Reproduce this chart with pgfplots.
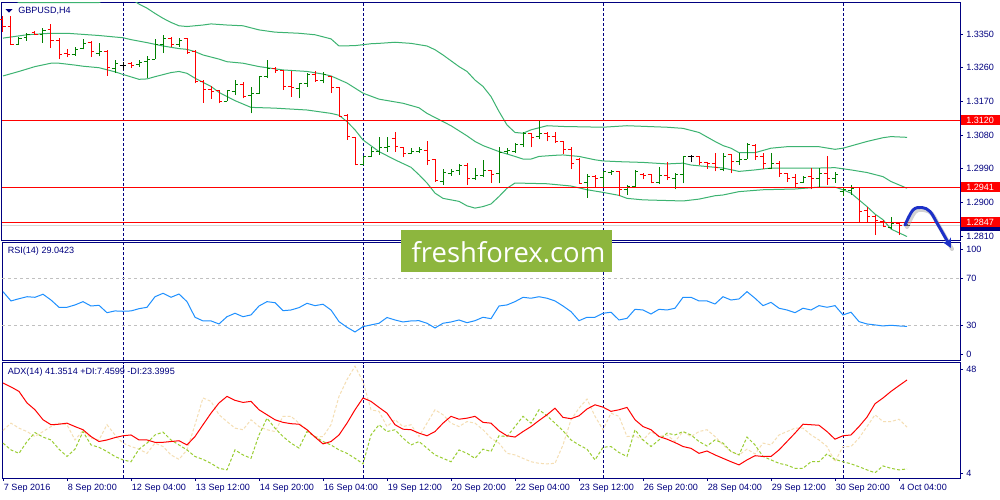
\documentclass[border=0pt]{standalone}
\usepackage{pgfplots}
\pgfplotsset{compat=1.18}
\usepackage{pgfplotstable}
\usepackage{fontspec}
\setmainfont{Liberation Sans}
\newfontfamily\wmfont{Open Sans}
\usetikzlibrary{arrows.meta}

\definecolor{navy}{RGB}{0,0,128}
\definecolor{upc}{RGB}{0,128,0}
\definecolor{dnc}{RGB}{255,0,0}
\definecolor{bbc}{RGB}{60,179,113}
\definecolor{rsic}{RGB}{30,144,255}
\definecolor{pdic}{RGB}{154,205,50}
\definecolor{mdic}{RGB}{245,222,179}
\definecolor{lvl}{RGB}{192,192,192}
\definecolor{bidc}{RGB}{215,215,215}
\definecolor{wmc}{RGB}{141,182,62}
\definecolor{arrc}{RGB}{28,48,200}

\newcommand\mtf{\fontsize{6.8}{8.2}\selectfont}

\pgfdeclareplotmark{openmk}{\pgfsetlinewidth{0.75pt}\pgfpathmoveto{\pgfqpoint{-2.6pt}{0pt}}\pgfpathlineto{\pgfqpoint{0pt}{0pt}}\pgfusepathqstroke}
\pgfdeclareplotmark{closemk}{\pgfsetlinewidth{0.75pt}\pgfpathmoveto{\pgfqpoint{0pt}{0pt}}\pgfpathlineto{\pgfqpoint{2.6pt}{0pt}}\pgfusepathqstroke}

\pgfplotstableread{
i o h l c
0 1.3388 1.3397 1.3356 1.3370
1 1.3370 1.3398 1.3321 1.3321
2 1.3321 1.3341 1.3321 1.3339
3 1.3341 1.3352 1.3332 1.3349
4 1.3355 1.3357 1.3347 1.3350
5 1.3349 1.3365 1.3327 1.3359
6 1.3361 1.3376 1.3312 1.3334
7 1.3332 1.3340 1.3283 1.3294
8 1.3299 1.3309 1.3288 1.3295
9 1.3294 1.3316 1.3292 1.3309
10 1.3312 1.3336 1.3309 1.3325
11 1.3328 1.3330 1.3288 1.3303
12 1.3299 1.3325 1.3290 1.3302
13 1.3303 1.3308 1.3238 1.3260
14 1.3258 1.3281 1.3247 1.3272
15 1.3266 1.3276 1.3254 1.3266
16 1.3272 1.3275 1.3260 1.3266
17 1.3269 1.3281 1.3263 1.3275
18 1.3276 1.3291 1.3232 1.3283
19 1.3283 1.3336 1.3283 1.3321
20 1.3321 1.3348 1.3299 1.3337
21 1.3337 1.3341 1.3316 1.3323
22 1.3323 1.3339 1.3316 1.3332
23 1.3337 1.3339 1.3297 1.3300
24 1.3303 1.3306 1.3218 1.3223
25 1.3223 1.3226 1.3167 1.3201
26 1.3202 1.3211 1.3177 1.3196
27 1.3199 1.3201 1.3165 1.3170
28 1.3170 1.3201 1.3170 1.3199
29 1.3196 1.3227 1.3187 1.3214
30 1.3214 1.3223 1.3178 1.3183
31 1.3187 1.3208 1.3138 1.3192
32 1.3192 1.3238 1.3190 1.3236
33 1.3236 1.3281 1.3232 1.3257
34 1.3258 1.3263 1.3247 1.3252
35 1.3252 1.3254 1.3201 1.3211
36 1.3211 1.3250 1.3183 1.3208
37 1.3205 1.3218 1.3178 1.3217
38 1.3217 1.3245 1.3208 1.3241
39 1.3241 1.3250 1.3223 1.3226
40 1.3227 1.3248 1.3218 1.3241
41 1.3236 1.3238 1.3192 1.3208
42 1.3208 1.3208 1.3129 1.3129
43 1.3132 1.3136 1.3067 1.3076
44 1.3074 1.3076 1.2999 1.3002
45 1.3002 1.3024 1.2999 1.3024
46 1.3024 1.3049 1.3021 1.3036
47 1.3036 1.3076 1.3027 1.3048
48 1.3047 1.3076 1.3036 1.3049
49 1.3072 1.3089 1.3036 1.3049
50 1.3048 1.3049 1.3021 1.3030
51 1.3032 1.3045 1.3029 1.3035
52 1.3036 1.3049 1.3033 1.3042
53 1.3040 1.3064 1.3000 1.3011
54 1.3014 1.3016 1.2956 1.2960
55 1.2956 1.2989 1.2947 1.2980
56 1.2978 1.2989 1.2971 1.2984
57 1.2985 1.3002 1.2974 1.3000
58 1.3000 1.3005 1.2947 1.2965
59 1.2965 1.2991 1.2960 1.2971
60 1.2971 1.3014 1.2969 1.2985
61 1.2985 1.2987 1.2953 1.2976
62 1.2978 1.3049 1.2951 1.3033
63 1.3036 1.3045 1.3030 1.3040
64 1.3036 1.3058 1.3033 1.3054
65 1.3054 1.3087 1.3048 1.3083
66 1.3083 1.3085 1.3047 1.3074
67 1.3076 1.3119 1.3069 1.3085
68 1.3085 1.3087 1.3063 1.3076
69 1.3076 1.3087 1.3060 1.3063
70 1.3063 1.3063 1.3030 1.3042
71 1.3042 1.3049 1.2989 1.3003
72 1.3016 1.3018 1.2949 1.2951
73 1.2953 1.2976 1.2913 1.2969
74 1.2969 1.2974 1.2941 1.2965
75 1.2966 1.2985 1.2942 1.2982
76 1.2981 1.2987 1.2974 1.2984
77 1.2982 1.2984 1.2916 1.2934
78 1.2934 1.2947 1.2920 1.2944
79 1.2944 1.2987 1.2941 1.2982
80 1.2976 1.2978 1.2962 1.2972
81 1.2975 1.2976 1.2951 1.2953
82 1.2953 1.2994 1.2949 1.2971
83 1.2971 1.3008 1.2960 1.2966
84 1.2965 1.2978 1.2935 1.2974
85 1.2974 1.3025 1.2951 1.3024
86 1.3023 1.3027 1.3007 1.3023
87 1.3024 1.3025 1.2999 1.3008
88 1.3007 1.3008 1.2990 1.3003
89 1.3005 1.3032 1.2983 1.2993
90 1.2989 1.3032 1.2983 1.3024
91 1.3027 1.3030 1.2978 1.3009
92 1.3009 1.3032 1.3000 1.3016
93 1.3016 1.3058 1.3016 1.3054
94 1.3052 1.3056 1.3014 1.3023
95 1.3023 1.3032 1.2989 1.3005
96 1.2991 1.3032 1.2989 1.3005
97 1.3005 1.3012 1.2969 1.2978
98 1.2978 1.2980 1.2956 1.2965
99 1.2966 1.2976 1.2942 1.2951
100 1.2953 1.2971 1.2953 1.2966
101 1.2969 1.2991 1.2935 1.2965
102 1.2965 1.2991 1.2941 1.2978
103 1.2978 1.3023 1.2947 1.2963
104 1.2965 1.2982 1.2953 1.2976
105 1.2929 1.2942 1.2918 1.2935
106 1.2932 1.2947 1.2920 1.2938
107 1.2941 1.2942 1.2846 1.2876
108 1.2878 1.2889 1.2849 1.2862
109 1.2862 1.2867 1.2813 1.2852
110 1.2849 1.2854 1.2834 1.2837
111 1.2834 1.2861 1.2829 1.2843
112 1.2843 1.2845 1.2813 1.2839
113 1.2839 1.2843 1.2837 1.2839
}\ohlc

\pgfplotstableread{
i v
0 1.3339
3 1.3348
6 1.3352
8 1.3352
10 1.3349
12 1.3346
15 1.3340
16 1.3335
18 1.3327
20 1.3318
22 1.3311
23 1.3309
24 1.3303
25 1.3294
27 1.3283
28 1.3276
30 1.3272
32 1.3263
35 1.3254
38 1.3250
40 1.3243
41 1.3238
43 1.3219
45 1.3192
47 1.3176
50 1.3165
52 1.3153
53 1.3138
55 1.3116
56 1.3105
58 1.3078
59 1.3063
60 1.3052
62 1.3036
64 1.3023
65 1.3016
66 1.3016
67 1.3023
69 1.3026
70 1.3027
72 1.3023
74 1.3014
75 1.3011
77 1.3009
80 1.3007
83 1.3003
85 1.3005
86 1.3000
88 1.2996
90 1.2992
92 1.2983
94 1.2987
96 1.2992
98 1.2992
102 1.2992
104 1.2993
106 1.2987
108 1.2980
110 1.2969
111 1.2956
113 1.2938
}\bbmid

\pgfplotstableread{
i v
0 1.3468
1 1.3445
2 1.3434
11 1.3434
12 1.3434
13 1.3445
14 1.3454
15 1.3454
16 1.3444
17 1.3430
18 1.3419
19 1.3405
20 1.3392
21 1.3381
22 1.3372
23 1.3370
25 1.3374
26 1.3377
28 1.3374
30 1.3372
32 1.3361
34 1.3355
37 1.3352
39 1.3348
41 1.3337
42 1.3318
44 1.3319
46 1.3324
47 1.3325
49 1.3328
51 1.3325
53 1.3318
54 1.3308
55 1.3294
57 1.3263
58 1.3250
59 1.3227
60 1.3210
61 1.3183
62 1.3143
63 1.3107
64 1.3087
65 1.3085
66 1.3094
68 1.3105
70 1.3103
75 1.3101
78 1.3105
83 1.3101
85 1.3098
87 1.3087
89 1.3063
90 1.3052
91 1.3045
92 1.3033
94 1.3033
96 1.3045
98 1.3049
102 1.3049
104 1.3042
105 1.3045
107 1.3057
108 1.3063
110 1.3073
111 1.3076
113 1.3074
}\bbup

\pgfplotstableread{
i v
0 1.3238
2 1.3250
4 1.3263
6 1.3272
7 1.3272
9 1.3267
10 1.3264
12 1.3260
14 1.3249
15 1.3242
17 1.3229
18 1.3230
19 1.3236
21 1.3247
22 1.3250
23 1.3245
24 1.3232
26 1.3210
27 1.3194
29 1.3172
30 1.3163
31 1.3154
34 1.3152
38 1.3147
41 1.3138
42 1.3133
43 1.3116
44 1.3094
45 1.3067
47 1.3036
49 1.3014
51 1.2994
52 1.2974
53 1.2952
54 1.2925
55 1.2911
57 1.2903
58 1.2891
59 1.2885
60 1.2889
61 1.2896
62 1.2916
63 1.2938
64 1.2952
68 1.2950
71 1.2944
73 1.2934
75 1.2927
77 1.2919
78 1.2911
80 1.2907
85 1.2904
87 1.2909
89 1.2918
90 1.2920
92 1.2929
95 1.2934
99 1.2936
102 1.2941
104 1.2941
105 1.2934
106 1.2925
107 1.2907
108 1.2889
109 1.2869
110 1.2854
111 1.2829
113 1.2809
}\bblow

\pgfplotstableread{
i r
0 58.6
1 50.7
2 52.6
3 54.3
4 53.8
5 56.4
6 51.5
7 45.3
8 45.3
9 47.3
10 50.1
11 46.4
12 47.0
13 40.7
14 42.2
15 41.9
16 42.2
17 44.1
18 45.3
19 54.3
20 57.2
21 53.8
22 56.6
23 50.1
24 36.8
25 33.7
26 33.7
27 31.1
28 37.3
29 40.2
30 37.3
31 38.8
32 46.4
33 50.1
34 49.2
35 42.4
36 43.0
37 45.0
38 48.7
39 46.7
40 47.9
41 43.0
42 33.1
43 28.3
44 24.3
45 28.8
46 30.3
47 31.7
48 36.6
49 34.5
50 32.8
51 33.7
52 33.9
53 31.7
54 27.7
55 31.7
56 32.8
57 34.5
58 32.2
59 33.9
60 36.8
61 35.6
62 46.4
63 47.3
64 50.1
65 53.8
66 53.0
67 54.3
68 53.0
69 50.7
70 46.4
71 41.6
72 33.9
73 36.8
74 36.8
75 40.2
76 41.1
77 34.5
78 35.9
79 43.6
80 43.0
81 39.6
82 43.6
83 43.0
84 44.5
85 53.8
86 53.8
87 50.7
88 50.7
89 48.1
90 54.3
91 51.5
92 52.4
93 58.6
94 53.0
95 46.7
96 49.5
97 44.5
98 43.0
99 40.7
100 44.5
101 43.0
102 46.7
103 45.3
104 46.7
105 38.8
106 41.1
107 33.1
108 31.1
109 30.3
110 29.4
111 30.0
112 29.4
113 29.04
}\rsi

\pgfplotstableread{
i adx pdi mdi
0 40.2 17.3 22.1
1 38.7 14.7 24.9
2 37.0 13.4 23.0
3 32.6 17.9 21.7
4 30.0 21.3 19.8
5 26.2 19.6 21.7
6 24.3 18.5 23.6
7 24.5 15.0 24.9
8 24.9 12.2 24.3
9 23.6 15.0 18.5
10 22.4 21.7 22.1
11 19.8 16.6 19.2
12 17.9 15.7 18.5
13 18.5 14.1 24.3
14 19.4 12.2 20.4
15 20.1 10.9 17.3
16 20.4 10.2 16.0
17 18.5 15.0 15.0
18 18.5 17.3 13.4
19 17.6 20.4 17.3
20 17.6 21.5 16.0
21 17.9 18.5 12.8
22 18.2 16.6 11.1
23 16.6 14.7 14.7
24 19.8 12.2 24.3
25 24.3 11.1 34.5
26 28.7 9.6 33.2
27 32.6 7.7 28.1
28 35.1 7.1 25.5
29 33.6 14.7 23.0
30 32.8 12.8 22.4
31 33.2 11.5 26.2
32 30.0 20.4 23.6
33 28.1 26.8 22.4
34 26.2 23.0 21.7
35 25.2 19.8 27.5
36 24.7 17.3 27.5
37 24.5 15.4 24.9
38 22.4 21.7 22.4
39 19.6 19.8 19.6
40 17.0 17.9 19.8
41 17.9 16.6 24.3
42 20.4 14.7 35.1
43 24.9 13.4 41.5
44 30.0 11.5 46.6
45 34.5 9.4 40.8
46 33.2 20.4 30.0
47 30.9 24.3 29.4
48 28.7 21.7 23.6
49 24.3 22.4 26.2
50 22.6 19.2 23.6
51 22.4 16.6 24.3
52 21.1 17.9 19.8
53 20.1 15.4 24.9
54 21.7 12.8 30.0
55 24.9 11.5 28.1
56 27.5 10.2 24.9
57 26.4 14.7 23.6
58 26.8 13.4 25.5
59 27.5 11.5 24.9
60 25.2 15.0 22.4
61 24.9 14.1 19.2
62 22.0 20.1 17.3
63 20.1 19.8 13.4
64 19.6 23.6 12.8
65 21.7 27.5 11.5
66 23.6 24.9 10.2
67 25.9 30.0 9.6
68 28.1 27.7 9.4
69 30.6 24.9 9.6
70 27.1 22.0 16.6
71 26.6 18.5 26.2
72 27.7 16.6 30.6
73 30.3 15.0 34.1
74 31.9 10.9 27.5
75 31.0 15.7 22.4
76 29.4 16.0 28.7
77 30.0 13.7 27.5
78 30.9 12.2 19.8
79 26.2 22.4 20.1
80 23.6 18.5 18.5
81 22.4 16.0 21.7
82 19.8 18.5 19.8
83 18.8 21.1 20.4
84 17.5 20.4 17.9
85 16.0 21.7 21.7
86 15.3 20.4 19.8
87 13.4 17.9 21.7
88 14.3 16.2 22.4
89 12.8 18.5 19.8
90 11.5 17.3 16.6
91 10.2 14.1 14.1
92 9.0 12.8 12.8
93 10.9 19.6 15.0
94 12.5 16.6 13.2
95 12.2 12.2 17.3
96 12.2 10.9 16.6
97 14.7 9.6 20.4
98 17.9 8.9 21.7
99 21.1 7.7 23.0
100 24.5 7.7 23.0
101 24.3 10.2 20.4
102 24.1 10.2 18.5
103 21.7 13.2 16.0
104 18.8 11.1 10.2
105 20.1 10.2 16.0
106 20.4 9.4 16.0
107 23.6 8.3 19.2
108 27.2 7.1 23.6
109 32.3 6.0 28.1
110 34.5 8.6 25.5
111 37.0 7.7 25.5
112 39.2 7.1 26.4
113 41.35 7.46 23.40
}\adx

\tikzset{pbox/.style={text=white, inner sep=0pt, minimum height=7.5pt, anchor=west, font=\mtf, xshift=0.75pt}}

\pgfplotsset{
  mt/.style={scale only axis, width=718.5pt, xmin=-0.125, xmax=119.625,
    axis line style={navy, line width=0.75pt},
    tick style={navy, line width=0.75pt},
    major tick length=2.25pt, tick align=outside,
    ytick pos=right, yticklabel pos=right,
    tick label style={font=\mtf, text=navy},
    yticklabel style={anchor=west, inner sep=0pt, xshift=2.25pt},
    clip mode=individual,
    extra x ticks={15,45,75,105}, extra x tick labels={},
    extra x tick style={grid=major, major tick length=0pt,
      major grid style={navy, line width=0.75pt, dash pattern=on 2.25pt off 1.5pt}},
  },
  tk/.style 2 args={#1, only marks, mark=#2, mark options={#1}, forget plot},
}

\begin{document}
\begin{tikzpicture}
\fill[white] (0,0) rectangle (750pt,-375pt);
\path[use as bounding box] (0,0) rectangle (750pt,-375pt);

% ---------------- main price panel ----------------
\begin{axis}[mt, at={(1.5pt,-1.5pt)}, anchor=north west, height=179.0pt,
  ymin=1.27980, ymax=1.34355, xtick=\empty,
  ytick={1.2810,1.2900,1.2990,1.3080,1.3170,1.3260,1.3350},
  yticklabels={1.2810,1.2900,1.2990,1.3080,1.3170,1.3260,1.3350}]
\addplot[bidc, line width=0.75pt, forget plot] coordinates {(-0.125,1.2838) (119.625,1.2838)};
\addplot[bbc, line width=0.75pt, forget plot] table[x=i,y=v] \bbup;
\addplot[bbc, line width=0.75pt, forget plot] table[x=i,y=v] \bbmid;
\addplot[bbc, line width=0.75pt, forget plot] table[x=i,y=v] \bblow;
% low-high lines of the up bars
\addplot[upc, line width=0.75pt, forget plot, unbounded coords=jump] coordinates {
(2,1.3321)(2,1.3341)(2,nan) (3,1.3332)(3,1.3352)(3,nan) (5,1.3327)(5,1.3365)(5,nan)
(9,1.3292)(9,1.3316)(9,nan) (10,1.3309)(10,1.3336)(10,nan) (12,1.3290)(12,1.3325)(12,nan)
(14,1.3247)(14,1.3281)(14,nan) (17,1.3263)(17,1.3281)(17,nan) (18,1.3232)(18,1.3291)(18,nan)
(19,1.3283)(19,1.3336)(19,nan) (20,1.3299)(20,1.3348)(20,nan) (22,1.3316)(22,1.3339)(22,nan)
(28,1.3170)(28,1.3201)(28,nan) (29,1.3187)(29,1.3227)(29,nan) (31,1.3138)(31,1.3208)(31,nan)
(32,1.3190)(32,1.3238)(32,nan) (33,1.3232)(33,1.3281)(33,nan) (37,1.3178)(37,1.3218)(37,nan)
(38,1.3208)(38,1.3245)(38,nan) (40,1.3218)(40,1.3248)(40,nan) (45,1.2999)(45,1.3024)(45,nan)
(46,1.3021)(46,1.3049)(46,nan) (47,1.3027)(47,1.3076)(47,nan) (48,1.3036)(48,1.3076)(48,nan)
(51,1.3029)(51,1.3045)(51,nan) (52,1.3033)(52,1.3049)(52,nan) (55,1.2947)(55,1.2989)(55,nan)
(56,1.2971)(56,1.2989)(56,nan) (57,1.2974)(57,1.3002)(57,nan) (59,1.2960)(59,1.2991)(59,nan)
(60,1.2969)(60,1.3014)(60,nan) (62,1.2951)(62,1.3049)(62,nan) (63,1.3030)(63,1.3045)(63,nan)
(64,1.3033)(64,1.3058)(64,nan) (65,1.3048)(65,1.3087)(65,nan) (67,1.3069)(67,1.3119)(67,nan)
(73,1.2913)(73,1.2976)(73,nan) (75,1.2942)(75,1.2985)(75,nan) (76,1.2974)(76,1.2987)(76,nan)
(78,1.2920)(78,1.2947)(78,nan) (79,1.2941)(79,1.2987)(79,nan) (82,1.2949)(82,1.2994)(82,nan)
(84,1.2935)(84,1.2978)(84,nan) (85,1.2951)(85,1.3025)(85,nan) (90,1.2983)(90,1.3032)(90,nan)
(92,1.3000)(92,1.3032)(92,nan) (93,1.3016)(93,1.3058)(93,nan) (96,1.2989)(96,1.3032)(96,nan)
(100,1.2953)(100,1.2971)(100,nan) (102,1.2941)(102,1.2991)(102,nan) (104,1.2953)(104,1.2982)(104,nan)
(105,1.2918)(105,1.2942)(105,nan) (106,1.2920)(106,1.2947)(106,nan) (111,1.2829)(111,1.2861)(111,nan)
};
% low-high lines of the down bars
\addplot[dnc, line width=0.75pt, forget plot, unbounded coords=jump] coordinates {
(0,1.3356)(0,1.3397)(0,nan) (1,1.3321)(1,1.3398)(1,nan) (4,1.3347)(4,1.3357)(4,nan)
(6,1.3312)(6,1.3376)(6,nan) (7,1.3283)(7,1.3340)(7,nan) (8,1.3288)(8,1.3309)(8,nan)
(11,1.3288)(11,1.3330)(11,nan) (13,1.3238)(13,1.3308)(13,nan) (16,1.3260)(16,1.3275)(16,nan)
(21,1.3316)(21,1.3341)(21,nan) (23,1.3297)(23,1.3339)(23,nan) (24,1.3218)(24,1.3306)(24,nan)
(25,1.3167)(25,1.3226)(25,nan) (26,1.3177)(26,1.3211)(26,nan) (27,1.3165)(27,1.3201)(27,nan)
(30,1.3178)(30,1.3223)(30,nan) (34,1.3247)(34,1.3263)(34,nan) (35,1.3201)(35,1.3254)(35,nan)
(36,1.3183)(36,1.3250)(36,nan) (39,1.3223)(39,1.3250)(39,nan) (41,1.3192)(41,1.3238)(41,nan)
(42,1.3129)(42,1.3208)(42,nan) (43,1.3067)(43,1.3136)(43,nan) (44,1.2999)(44,1.3076)(44,nan)
(49,1.3036)(49,1.3089)(49,nan) (50,1.3021)(50,1.3049)(50,nan) (53,1.3000)(53,1.3064)(53,nan)
(54,1.2956)(54,1.3016)(54,nan) (58,1.2947)(58,1.3005)(58,nan) (61,1.2953)(61,1.2987)(61,nan)
(66,1.3047)(66,1.3085)(66,nan) (68,1.3063)(68,1.3087)(68,nan) (69,1.3060)(69,1.3087)(69,nan)
(70,1.3030)(70,1.3063)(70,nan) (71,1.2989)(71,1.3049)(71,nan) (72,1.2949)(72,1.3018)(72,nan)
(74,1.2941)(74,1.2974)(74,nan) (77,1.2916)(77,1.2984)(77,nan) (80,1.2962)(80,1.2978)(80,nan)
(81,1.2951)(81,1.2976)(81,nan) (83,1.2960)(83,1.3008)(83,nan) (87,1.2999)(87,1.3025)(87,nan)
(88,1.2990)(88,1.3008)(88,nan) (89,1.2983)(89,1.3032)(89,nan) (91,1.2978)(91,1.3030)(91,nan)
(94,1.3014)(94,1.3056)(94,nan) (95,1.2989)(95,1.3032)(95,nan) (97,1.2969)(97,1.3012)(97,nan)
(98,1.2956)(98,1.2980)(98,nan) (99,1.2942)(99,1.2976)(99,nan) (101,1.2935)(101,1.2991)(101,nan)
(103,1.2947)(103,1.3023)(103,nan) (107,1.2846)(107,1.2942)(107,nan) (108,1.2849)(108,1.2889)(108,nan)
(109,1.2813)(109,1.2867)(109,nan) (110,1.2834)(110,1.2854)(110,nan) (112,1.2813)(112,1.2845)(112,nan)
};
% low-high lines of the doji bars
\addplot[black, line width=0.75pt, forget plot, unbounded coords=jump] coordinates {
(15,1.3254)(15,1.3276)(15,nan) (86,1.3007)(86,1.3027)(86,nan) (113,1.2837)(113,1.2843)(113,nan)
};
% open / close ticks
\addplot[tk={upc}{openmk}, restrict expr to domain={\thisrow{c}-\thisrow{o}}{0.00005:1}] table[x=i, y=o] \ohlc;
\addplot[tk={upc}{closemk}, restrict expr to domain={\thisrow{c}-\thisrow{o}}{0.00005:1}] table[x=i, y=c] \ohlc;
\addplot[tk={dnc}{openmk}, restrict expr to domain={\thisrow{c}-\thisrow{o}}{-1:-0.00005}] table[x=i, y=o] \ohlc;
\addplot[tk={dnc}{closemk}, restrict expr to domain={\thisrow{c}-\thisrow{o}}{-1:-0.00005}] table[x=i, y=c] \ohlc;
\addplot[tk={black}{openmk}, restrict expr to domain={\thisrow{c}-\thisrow{o}}{-0.00004:0.00004}] table[x=i, y=o] \ohlc;
\addplot[tk={black}{closemk}, restrict expr to domain={\thisrow{c}-\thisrow{o}}{-0.00004:0.00004}] table[x=i, y=c] \ohlc;
% horizontal levels
\addplot[dnc, line width=0.75pt, forget plot] coordinates {(-0.125,1.3120) (119.625,1.3120)};
\addplot[dnc, line width=0.75pt, forget plot] coordinates {(-0.125,1.2941) (119.625,1.2941)};
\addplot[dnc, line width=0.75pt, forget plot] coordinates {(-0.125,1.2847) (119.625,1.2847)};
% price boxes (bid box mostly hidden behind the 1.2847 box)
\node[pbox, fill=navy, minimum width=29.25pt] at ({rel axis cs:1,0} |- {axis cs:0,1.2838}) {};
\node[pbox, fill=dnc] at ({rel axis cs:1,0} |- {axis cs:0,1.3120}) {\makebox[29.25pt][l]{\hspace{3.75pt}1.3120}};
\node[pbox, fill=dnc] at ({rel axis cs:1,0} |- {axis cs:0,1.2941}) {\makebox[29.25pt][l]{\hspace{3.75pt}1.2941}};
\node[pbox, fill=dnc] at ({rel axis cs:1,0} |- {axis cs:0,1.2847}) {\makebox[29.25pt][l]{\hspace{3.75pt}1.2847}};
\end{axis}

% ---------------- RSI panel ----------------
\begin{axis}[mt, at={(1.5pt,-182.0pt)}, anchor=north west, height=88.2pt,
  ymin=0.2, ymax=100.3, xtick=\empty,
  ytick={5.5,30,70,94.5}, yticklabels={0,30,70,100}]
\addplot[lvl, line width=0.75pt, dash pattern=on 2.25pt off 2.25pt, forget plot] coordinates {(-0.125,70) (119.625,70)};
\addplot[lvl, line width=0.75pt, dash pattern=on 2.25pt off 2.25pt, forget plot] coordinates {(-0.125,30) (119.625,30)};
\addplot[rsic, line width=0.75pt, forget plot] table[x=i,y=r] \rsi;
\end{axis}

% ---------------- ADX panel ----------------
\begin{axis}[mt, at={(1.5pt,-271.9pt)}, anchor=north west, height=86.6pt,
  ymin=4, ymax=48, ytick={5.9,45.3}, yticklabels={4,48},
  xtick={0,8,...,112}, xtick pos=left,
  xticklabels={7 Sep 2016,8 Sep 20:00,12 Sep 04:00,13 Sep 12:00,14 Sep 20:00,16 Sep 04:00,19 Sep 12:00,20 Sep 20:00,22 Sep 04:00,23 Sep 12:00,26 Sep 20:00,28 Sep 04:00,29 Sep 12:00,30 Sep 20:00,4 Oct 04:00},
  xticklabel style={anchor=north west, inner sep=0pt, xshift=0.5pt, yshift=-2.5pt}]
\addplot[mdic, line width=0.75pt, dash pattern=on 2.25pt off 1.5pt, forget plot] table[x=i,y=mdi] \adx;
\addplot[pdic, line width=0.75pt, dash pattern=on 2.25pt off 1.5pt, forget plot] table[x=i,y=pdi] \adx;
\addplot[dnc, line width=0.75pt, forget plot] table[x=i,y=adx] \adx;
\end{axis}

% ---------------- annotations (pixel coordinates) ----------------
\begin{scope}[x=0.75pt, y=-0.75pt]
\fill[navy] (5.5,9) -- (12.5,9) -- (9,12.5) -- cycle;
\node[anchor=west, inner sep=0pt, font=\mtf, text=navy] at (18,11) {GBPUSD,H4};
\node[anchor=west, inner sep=0pt, font=\mtf, text=navy] at (7.5,251.5) {RSI(14) 29.0423};
\node[anchor=west, inner sep=0pt, font=\mtf, text=navy] at (7.5,372) {ADX(14) 41.3514 +DI:7.4599 -DI:23.3995};
% watermark
\fill[wmc] (401,230) rectangle (612,271.5);
\node[anchor=base, inner sep=0pt, text=white, font=\wmfont\fontsize{20.6}{24}\selectfont] at (508.5,262) {freshforex.com};
% hand drawn arrow
\draw[black!35, line width=3pt, opacity=0.5, line cap=round]
  plot[smooth, tension=0.6] coordinates {(907,227) (915,212) (924,210) (932,214) (939,226) (947,240) (952,249)};
\draw[arrc, line width=2.2pt, line cap=round, -{Stealth[length=7pt,width=7pt]}]
  plot[smooth, tension=0.6] coordinates {(905,225) (913,210) (922,207.5) (930,211.5) (937,223) (945,237) (951,248)};
\end{scope}
\end{tikzpicture}
\end{document}
